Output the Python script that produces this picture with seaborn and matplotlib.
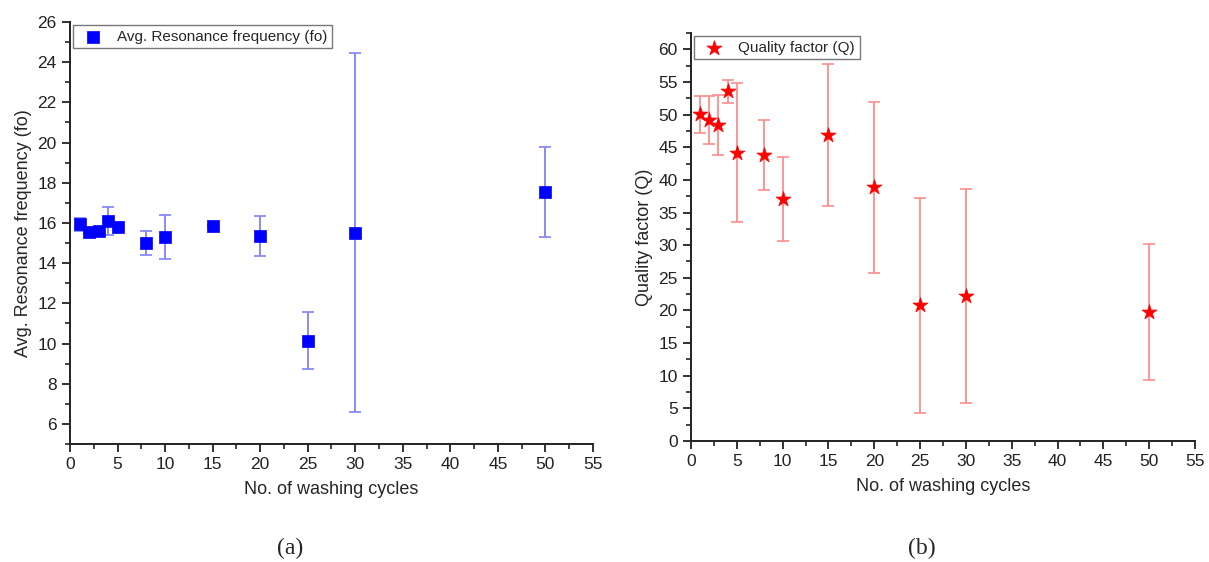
import numpy as np
import pandas as pd
import matplotlib
matplotlib.use("Agg")
import matplotlib.pyplot as plt
from matplotlib.ticker import MultipleLocator
import seaborn as sns

# --- Data ---
cycles = [1, 2, 3, 4, 5, 8, 10, 15, 20, 25, 30, 50]
fo_mean = [15.93, 15.53, 15.6, 16.1, 15.8, 15.0, 15.3, 15.85, 15.37, 10.13, 15.52, 17.53]
fo_err = [0.33, 0.1, 0.2, 0.7, 0.05, 0.6, 1.1, 0.05, 1.0, 1.42, 8.95, 2.23]
q_mean = [50.05, 49.13, 48.47, 53.57, 44.19, 43.8, 37.04, 46.9, 38.88, 20.77, 22.2, 19.8]
q_err = [2.8, 3.7, 4.6, 1.8, 10.7, 5.4, 6.4, 10.9, 13.1, 16.5, 16.4, 10.4]

sns.set_theme(style="ticks")
plt.rcParams['font.family'] = ['Liberation Sans', 'DejaVu Sans']

df = pd.DataFrame({'cycles': cycles, 'fo': fo_mean, 'fo_err': fo_err,
                   'Q': q_mean, 'Q_err': q_err})

fig = plt.figure(figsize=(12.09, 5.62), dpi=100)
W, H = 1209, 562
ax1 = fig.add_axes([70 / W, 1 - 444 / H, (593 - 70) / W, (444 - 22) / H])
ax2 = fig.add_axes([691 / W, 1 - 441 / H, (1195 - 691) / W, (441 - 33) / H])


def style_axis(ax, ylim, ymajor, yminor):
    ax.set_xlim(0, 55)
    ax.set_ylim(*ylim)
    ax.xaxis.set_major_locator(MultipleLocator(5))
    ax.xaxis.set_minor_locator(MultipleLocator(2.5))
    ax.yaxis.set_major_locator(MultipleLocator(ymajor))
    ax.yaxis.set_minor_locator(MultipleLocator(yminor))
    for s in ['top', 'right']:
        ax.spines[s].set_visible(False)
    for s in ['left', 'bottom']:
        ax.spines[s].set_linewidth(1.4)
        ax.spines[s].set_color('#222222')
    ax.tick_params(which='major', direction='out', length=6, width=1.3,
                   labelsize=12.5, colors='#222222')
    ax.tick_params(which='minor', direction='out', length=3.5, width=1.2,
                   colors='#222222')
    ax.set_xlabel('No. of washing cycles', fontsize=13, labelpad=6)


def add_legend(ax):
    leg = ax.legend(loc='upper left', fontsize=11, frameon=True, fancybox=False,
                    edgecolor='#555555', borderpad=0.3, handletextpad=0.6,
                    borderaxespad=0.2)
    leg.get_frame().set_linewidth(1.0)


# --- Panel (a) ---
ax1.errorbar(df['cycles'], df['fo'], yerr=df['fo_err'], fmt='none',
             ecolor=(0.5, 0.5, 1.0), elinewidth=1.3, capsize=4, capthick=1.2)
sns.scatterplot(data=df, x='cycles', y='fo', marker='s', s=80, color='blue',
                edgecolor='blue', linewidth=0.5, ax=ax1,
                label='Avg. Resonance frequency (fo)', zorder=3)
style_axis(ax1, (5, 26), 2, 1)
ax1.set_ylabel('Avg. Resonance frequency (fo)', fontsize=13)
add_legend(ax1)

# --- Panel (b) ---
ax2.errorbar(df['cycles'], df['Q'], yerr=df['Q_err'], fmt='none',
             ecolor=(1.0, 0.55, 0.55), elinewidth=1.3, capsize=4, capthick=1.2)
sns.scatterplot(data=df, x='cycles', y='Q', marker='*', s=130, color='red',
                edgecolor='red', linewidth=0.5, ax=ax2,
                label='Quality factor (Q)', zorder=3)
style_axis(ax2, (0, 62.5), 5, 2.5)
ax2.set_ylabel('Quality factor (Q)', fontsize=13)
add_legend(ax2)

# --- Panel captions ---
fig.text(290 / W, 1 - 548 / H, '(a)', ha='center', va='center', fontsize=17,
         family=['Liberation Serif', 'DejaVu Serif'])
fig.text(922 / W, 1 - 548 / H, '(b)', ha='center', va='center', fontsize=17,
         family=['Liberation Serif', 'DejaVu Serif'])

plt.savefig('out.png', dpi=100)
plt.close()
